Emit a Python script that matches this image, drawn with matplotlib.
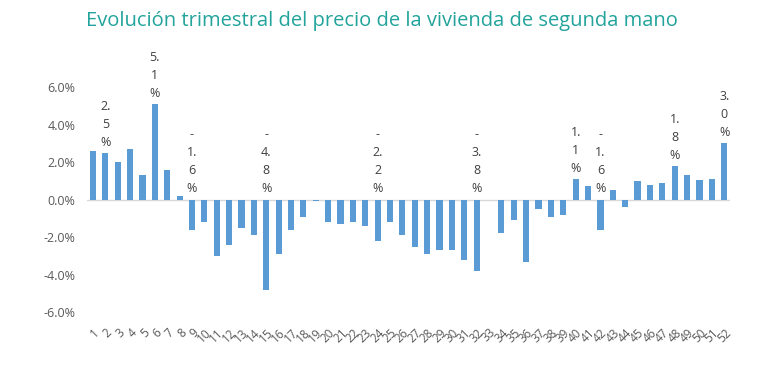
import matplotlib.pyplot as plt
import numpy as np

quarters = list(range(1, 53))
values = [2.6, 2.5, 2.0, 2.7, 1.3, 5.1, 1.6, 0.2, -1.6, -1.2,
          -3.0, -2.4, -1.5, -1.9, -4.8, -2.9, -1.6, -0.9, -0.1, -1.2,
          -1.3, -1.2, -1.4, -2.2, -1.2, -1.9, -2.5, -2.9, -2.7, -2.7,
          -3.2, -3.8, 0.0, -1.8, -1.1, -3.3, -0.5, -0.9, -0.8, 1.1,
          0.7, -1.6, 0.5, -0.4, 1.0, 0.8, 0.9, 1.8, 1.3, 1.05,
          1.1, 3.0]
labelled = [2, 6, 9, 15, 24, 32, 40, 42, 48, 52]
title = "Evolución trimestral del precio de la vivienda de segunda mano"

plt.rcParams['font.family'] = ['Open Sans', 'DejaVu Sans']

fig = plt.figure(figsize=(7.68, 3.77), dpi=100)
ax = fig.add_axes([0.113, 0.172, 0.838, 0.597])

ax.bar(quarters, values, width=0.5, color="#5b9bd5", zorder=2)
ax.axhline(0, color="#d9d9d9", linewidth=1, zorder=1)

ax.set_xlim(0.5, 52.5)
ax.set_ylim(-6, 6)
ax.set_yticks(np.arange(-6, 7, 2))
ax.set_yticklabels([f"{v:.1f}%" for v in np.arange(-6, 7, 2)])
ax.set_xticks(quarters)
ax.set_xticklabels([str(q) for q in quarters], rotation=45, ha="right",
                   va="top", rotation_mode="anchor")
ax.tick_params(axis="x", length=0, pad=10, labelsize=8.5, labelcolor="#595959")
ax.tick_params(axis="y", length=0, pad=8, labelsize=9, labelcolor="#595959")
for s in ax.spines.values():
    s.set_visible(False)

# data labels wrapped one char group per line, like the narrow Excel labels
for q in labelled:
    v = values[q - 1]
    txt = f"{v:.1f}%"
    parts = []
    if txt.startswith("-"):
        parts.append("-")
        txt = txt[1:]
    a, b = txt.split(".")
    parts += [a + ".", b[0], "%"]
    base = max(v, 0)
    ax.annotate("\n".join(parts), (q, base), xytext=(0, 3),
                textcoords="offset points", ha="center", va="bottom",
                fontsize=9, color="#404040", linespacing=1.5)

fig.text(0.112, 0.945, title, fontsize=14.5, color="#22a39b",
         ha="left", va="center")

fig.savefig("out.png", dpi=100)
